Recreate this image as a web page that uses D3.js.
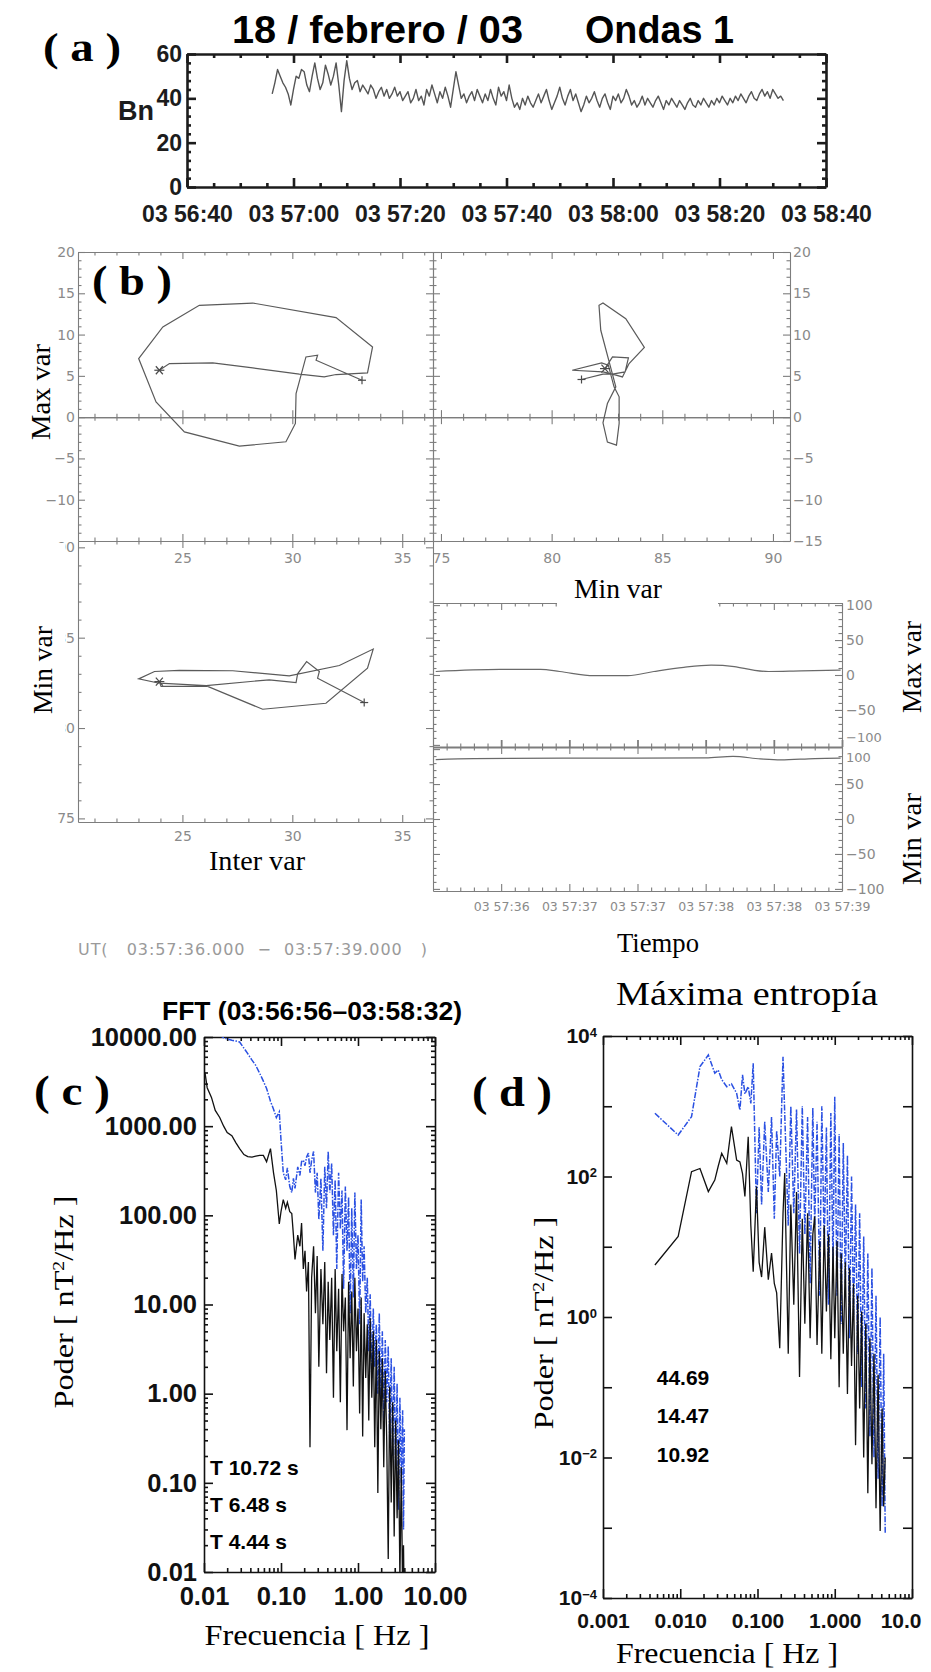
<!DOCTYPE html>
<html>
<head>
<meta charset="utf-8">
<script src="https://cdn.jsdelivr.net/npm/d3@7"></script>
<style>
  body { margin: 0; background: #fff; }
  svg { display: block; }
</style>
</head>
<body>
<svg id="fig" width="931" height="1672"></svg>
<script>
// ---------- data ----------

// (a) Bn every half second, starting 16 s after 03:56:40
const bnStart = 16, bnStep = 0.5;
const bnValues = [42, 47, 53, 50, 47, 45, 42, 37, 44, 50,
  49, 53, 52, 46, 43, 50, 56, 49, 44, 47,
  55, 51, 46, 50, 56, 46, 34, 48, 57, 49,
  44, 47, 48, 43, 46, 44, 42, 46, 44, 40,
  43, 45, 41, 44, 40, 42, 45, 41, 43, 39,
  41, 43, 38, 40, 44, 39, 41, 37, 44, 41,
  46, 42, 38, 43, 40, 45, 41, 36, 44, 52,
  46, 40, 42, 38, 41, 43, 39, 44, 41, 38,
  42, 39, 44, 40, 37, 45, 41, 43, 39, 46,
  40, 36, 38, 35, 40, 37, 41, 38, 36, 39,
  42, 38, 41, 44, 39, 35, 38, 41, 45, 40,
  37, 41, 44, 39, 42, 38, 34, 37, 41, 38,
  40, 43, 39, 36, 40, 42, 38, 35, 41, 39,
  42, 38, 40, 44, 41, 37, 39, 36, 38, 41,
  37, 40, 38, 36, 39, 41, 38, 35, 39, 37,
  40, 38, 36, 39, 37, 35, 38, 40, 37, 36,
  39, 37, 40, 38, 36, 39, 37, 40, 38, 41,
  39, 37, 40, 38, 41, 39, 42, 40, 38, 41,
  43, 40, 39, 42, 44, 41, 43, 40, 44, 42,
  40, 41, 39];
const aTicks = [0, 20, 40, 60, 80, 100, 120];
const aTickLabels = ["03 56:40", "03 57:00", "03 57:20", "03 57:40", "03 58:00", "03 58:20", "03 58:40"];
const aYTicks = [0, 20, 40, 60];

// (b) hodograms
const hodo1Inter = [23.95, 24.41, 26.38, 28.20, 30.32, 31.45, 31.99, 33.42, 33.65, 31.99, 28.20, 25.77,
  24.11, 23.01, 23.80, 25.09, 27.59, 29.71, 30.14, 30.17, 30.62, 31.15, 31.08, 33.17];
const hodo1Max = [5.68, 6.49, 6.57, 5.96, 5.20, 4.88, 5.16, 5.36, 8.50, 12.05, 13.82, 13.54,
  10.92, 7.10, 1.85, -1.78, -3.51, -2.98, -0.76, 2.86, 7.29, 7.50, 6.89, 4.47];

const hodo2Min = [82.41, 82.75, 83.47, 83.32, 82.75, 82.32, 80.93, 82.26, 82.56, 82.82, 83.05, 83.05, 82.93, 82.52,
  82.32, 82.52, 82.90, 82.22, 82.14, 82.32, 83.35, 84.19, 83.50, 83.20, 82.75, 82.32, 81.35];
const hodo2Max = [5.88, 7.30, 7.18, 5.48, 5.20, 5.48, 5.68, 6.57, 6.29, 3.67, 2.46, -0.77, -3.39, -3.02,
  -0.69, 1.65, 3.67, 10.52, 13.54, 13.82, 11.93, 8.43, 6.49, 4.87, 5.20, 5.20, 4.56];

const hodo3Inter = [23.95, 24.03, 26.15, 28.65, 31.53, 33.42, 33.68, 32.14, 29.86, 27.29, 24.86,
  23.73, 23.01, 23.95, 26.08, 28.95, 30.17, 30.24, 30.65, 31.23, 31.15, 33.27];
const hodo3Min = [82.57, 82.30, 82.30, 81.04, 81.37, 83.31, 84.37, 83.46, 82.89, 83.17, 83.19,
  83.13, 82.72, 82.48, 82.35, 82.67, 82.52, 83.00, 83.68, 83.13, 82.76, 81.41];

// (b) time series, seconds after 03:57:00
const tsMaxTime = [36.02, 36.49, 36.79, 36.93, 37.18, 37.43, 37.62, 37.84, 38.04, 38.21, 38.35, 38.46, 38.70, 38.99];
const tsMax = [5, 8, 8, 5, -1, -1, 5, 11, 14, 12, 7, 5, 6, 7];
const tsMinTime = [36.02, 36.3, 37.0, 37.5, 38.0, 38.2, 38.4, 38.55, 38.8, 38.99];
const tsMin = [85, 86.5, 87, 87, 87.5, 89.5, 86, 84.5, 86.5, 87];
const tsTicks = [36.5, 37, 37.5, 38, 38.5, 39];
const tsTickLabels = ["03 57:36", "03 57:37", "03 57:37", "03 57:38", "03 57:38", "03 57:39"];

// (c) FFT spectra
const cFreq = [0.0103, 0.0110, 0.0125, 0.0140, 0.0160, 0.0180, 0.0200, 0.0230, 0.0260, 0.0290,
  0.0330, 0.0370, 0.0420, 0.0470, 0.0530, 0.0590, 0.0650, 0.0730, 0.0800, 0.0870,
  0.0950, 0.1000, 0.1070, 0.1150, 0.1210, 0.1300, 0.1380, 0.1450, 0.1520, 0.1650,
  0.1760, 0.1850, 0.1950, 0.2050, 0.2150, 0.2270, 0.2380, 0.2500, 0.2650, 0.2800,
  0.2950, 0.3100, 0.3300, 0.3500, 0.3700, 0.3900, 0.4100, 0.4300, 0.4550, 0.4800,
  0.5050, 0.5300, 0.5600, 0.5900, 0.6200, 0.6500, 0.6850, 0.7200, 0.7550, 0.7900,
  0.830, 0.870, 0.910, 0.955, 1.000, 1.050, 1.100, 1.150, 1.200, 1.260,
  1.320, 1.380, 1.440, 1.510, 1.580, 1.650, 1.730, 1.810, 1.890, 1.980,
  2.070, 2.160, 2.260, 2.360, 2.470, 2.580, 2.700, 2.820, 2.950, 3.080,
  3.220, 3.360, 3.500, 3.650, 3.800, 3.900, 4.000];
const cBlack = [4000, 2700, 2100, 1500, 1250, 1000, 850, 780, 650, 560,
  480, 455, 450, 460, 470, 470, 400, 560, 300, 190,
  80, 110, 150, 120, 140, 110, 105, 60, 32, 60,
  45, 82, 25, 40, 14, 30, 0.25, 20, 45, 8,
  35, 2.0, 25, 6, 30, 1.7, 18, 4, 20, 0.9,
  25, 3, 15, 0.8, 22, 5, 12, 0.39, 18, 2.5,
  14, 1.2, 20, 3, 9, 0.6, 12, 0.33, 8, 1.5,
  6, 0.5, 7, 0.9, 5, 0.25, 4, 0.077, 3, 0.4,
  2.5, 0.15, 1.8, 0.3, 0.014, 1.2, 0.06, 0.8, 0.025, 0.5,
  0.04, 0.3, 0.008, 0.15, 0.005, 0.02, 0.003];
const cBlue = [16000, 15000, 13500, 12000, 10500, 9800, 9500, 9200, 9000, 8800,
  7500, 6500, 5500, 4800, 3900, 3200, 2650, 1900, 1550, 1250,
  1450, 700, 300, 250, 340, 210, 180, 260, 200, 350,
  280, 400, 415, 360, 450, 500, 300, 415, 520, 180,
  300, 90, 260, 40, 350, 120, 520, 180, 380, 60,
  250, 25, 300, 70, 190, 15, 210, 40, 160, 8,
  120, 12, 180, 25, 60, 6, 150, 18, 45, 8,
  20, 3, 13, 1.5, 9, 2, 6, 1.0, 8, 0.8,
  5, 0.5, 4, 0.8, 3.4, 0.3, 2.5, 0.2, 2, 0.15,
  1.3, 0.05, 0.9, 0.1, 0.65, 0.03, 0.4];
const cXTicks = [0.01, 0.1, 1, 10];
const cXTickLabels = ["0.01", "0.10", "1.00", "10.00"];
const cYTicks = [0.01, 0.1, 1, 10, 100, 1000, 10000];
const cYTickLabels = ["0.01", "0.10", "1.00", "10.00", "100.00", "1000.00", "10000.00"];
const cPeriods = ["T 10.72 s", "T 6.48 s", "T 4.44 s"];

// (d) maximum entropy spectra
const dFreq = [0.0047, 0.0094, 0.0140, 0.0180, 0.0231, 0.0280, 0.0310, 0.0344, 0.0400, 0.0460,
  0.0537, 0.0592, 0.0640, 0.0687, 0.0758, 0.0820, 0.0880, 0.0970, 0.1050, 0.1130,
  0.1240, 0.1380, 0.1520, 0.1650, 0.1770, 0.1940, 0.2140, 0.2250, 0.2500, 0.2700,
  0.2950, 0.3200, 0.3500, 0.3800, 0.4100, 0.4450, 0.4800, 0.5200, 0.5500, 0.5900,
  0.640, 0.680, 0.730, 0.780, 0.830, 0.890, 0.950, 1.000, 1.070, 1.140,
  1.210, 1.290, 1.370, 1.460, 1.550, 1.650, 1.750, 1.860, 1.980, 2.100,
  2.230, 2.370, 2.520, 2.680, 2.850, 3.030, 3.220, 3.420, 3.640, 3.870,
  4.100, 4.300, 4.500];
const dBlack = [5.5, 14, 117, 130, 61, 89, 140, 214, 154, 512,
  171, 161, 110, 52, 369, 20, 4.4, 72, 6, 3.7,
  19, 3.4, 8.1, 3, 2.2, 0.36, 30, 112, 0.3, 40,
  1.5, 60, 0.14, 25, 0.8, 30, 0.5, 15, 27, 0.4,
  12, 0.3, 20, 1.2, 15, 0.25, 10, 0.5, 12, 0.1,
  8, 0.3, 6, 0.08, 5, 0.2, 3, 0.015, 2, 0.05,
  1.2, 0.01, 0.8, 0.0031, 0.5, 0.008, 0.3, 0.0019, 0.15, 0.0009,
  0.05, 0.002, 0.01];
const dBlue = [794, 389, 711, 3660, 5370, 2950, 3280, 2400, 1900, 2080,
  1530, 880, 2800, 1500, 1900, 1100, 4080, 30, 500, 40,
  600, 60, 700, 25, 450, 100, 5080, 800, 20, 1000,
  30, 900, 8, 1000, 15, 700, 3, 950, 20, 600,
  2, 1000, 10, 500, 1.5, 800, 5, 1370, 2, 400,
  0.8, 300, 3, 200, 0.5, 100, 1, 40, 0.3, 30,
  0.1, 14, 0.05, 8, 0.02, 5, 0.01, 2, 0.005, 1,
  0.002, 0.3, 0.00085];
const dXTicks = [0.001, 0.01, 0.1, 1, 10];
const dXTickLabels = ["0.001", "0.010", "0.100", "1.000", "10.0"];
const dYExp = [-4, -2, 0, 2, 4];
const dPeriods = ["44.69", "14.47", "10.92"];

// ---------- drawing ----------
const svg = d3.select("#fig");
const SERIF = "'Liberation Serif', 'DejaVu Serif', serif";
const SANS = "'Liberation Sans', Arial, sans-serif";
const IDL = "'DejaVu Sans', sans-serif";
const GREY = "#7d7d7d";
const BLUE = "#2a50e2";

function label(x, y, s, o) {
  o = o || {};
  const t = svg.append("text")
    .attr("x", x).attr("y", y)
    .attr("font-family", o.family || SANS)
    .attr("font-size", o.size || 16)
    .attr("font-weight", o.weight || "normal")
    .attr("fill", o.fill || "#000")
    .attr("text-anchor", o.anchor || "middle")
    .style("white-space", "pre")
    .text(s);
  if (o.len) t.attr("textLength", o.len).attr("lengthAdjust", o.adjust || "spacingAndGlyphs");
  if (o.rotate) t.attr("transform", "rotate(" + o.rotate + "," + x + "," + y + ")");
  return t;
}

// inward ticks; labels optional
function axis(kind, scale, o) {
  const make = {bottom: d3.axisBottom, top: d3.axisTop, left: d3.axisLeft, right: d3.axisRight}[kind];
  const gen = make(scale)
    .tickValues(o.values)
    .tickSizeInner(-o.size)
    .tickSizeOuter(0)
    .tickPadding(o.pad || 4)
    .tickFormat(o.labels ? (d, i) => o.labels[i] : "");
  const g = svg.append("g")
    .attr("transform", "translate(" + (o.x || 0) + "," + (o.y || 0) + ")")
    .call(gen);
  if (o.noDomain) g.select(".domain").remove();
  else g.select(".domain").attr("stroke", o.color).attr("stroke-width", o.width);
  g.selectAll(".tick line").attr("stroke", o.color).attr("stroke-width", o.width);
  if (!o.labels) {
    g.selectAll(".tick text").remove();
  } else {
    g.selectAll(".tick text")
      .attr("fill", o.textColor || o.color)
      .attr("font-family", o.family || SANS)
      .attr("font-size", o.fontSize || 12)
      .attr("font-weight", o.weight || "normal");
  }
  return g;
}

function logMinor(lo, hi) {
  const out = [];
  for (let e = Math.floor(Math.log10(lo)); e < Math.ceil(Math.log10(hi)); e++) {
    for (let m = 2; m <= 9; m++) out.push(m * Math.pow(10, e));
  }
  return out.filter(v => v > lo && v < hi);
}

// ===== panel (a) =====
label(232, 43, "18 / febrero / 03", {size: 38, weight: "bold", anchor: "start", len: 291});
label(585, 43, "Ondas 1", {size: 38, weight: "bold", anchor: "start", len: 149});
label(82, 61, "( a )", {family: SERIF, size: 40, weight: "bold", len: 78});

const xA = d3.scaleLinear([0, 120], [187, 826]);
const yA = d3.scaleLinear([0, 60], [187, 54]);
const aStyle = {color: "#1c1c1c", width: 2.6, fontSize: 23, weight: "bold", textColor: "#1c1c1c"};
axis("bottom", xA, Object.assign({values: aTicks, labels: aTickLabels, size: 9, y: 187, pad: 19}, aStyle));
axis("top", xA, Object.assign({values: aTicks, size: 9, y: 54}, aStyle));
axis("left", yA, Object.assign({values: aYTicks, labels: aYTicks.map(String), size: 9, x: 187, pad: 5}, aStyle));
axis("right", yA, Object.assign({values: aYTicks, size: 9, x: 826}, aStyle));
const aMinX = d3.range(0, 121, 5).filter(v => v % 20);
const aMinY = d3.range(0, 61, 4).filter(v => v % 20);
axis("bottom", xA, Object.assign({values: aMinX, size: 4, y: 187, noDomain: true}, aStyle));
axis("top", xA, Object.assign({values: aMinX, size: 4, y: 54, noDomain: true}, aStyle));
axis("left", yA, Object.assign({values: aMinY, size: 4, x: 187, noDomain: true}, aStyle));
axis("right", yA, Object.assign({values: aMinY, size: 4, x: 826, noDomain: true}, aStyle));
label(136, 120, "Bn", {size: 27, weight: "bold", fill: "#1c1c1c"});

svg.append("path")
  .datum(bnValues)
  .attr("fill", "none")
  .attr("stroke", "#555")
  .attr("stroke-width", 1.4)
  .attr("stroke-linejoin", "round")
  .attr("d", d3.line().x((d, i) => xA(bnStart + i * bnStep)).y(d => yA(d)));

// ===== panel (b) =====
const xInter = d3.scaleLinear([20.25, 36.4], [78, 433]);
const yMaxS = d3.scaleLinear([-15, 20], [541, 252]);
const xMinS = d3.scaleLinear([74.64, 90.77], [433, 790]);
const yMinS = d3.scaleLinear([74.8, 90.35], [822, 541]);
const xT = d3.scaleLinear([36, 39], [433, 842]);
const yTop = d3.scaleLinear([-103, 103], [747, 603]);
const yBot = d3.scaleLinear([-103, 103], [891, 747]);

const bStyle = {color: GREY, width: 1.1, family: IDL, fontSize: 14, textColor: "#8a8a8a"};
const interMaj = [25, 30, 35], interMin = d3.range(21, 37).filter(v => v % 5);
const maxMaj = [-15, -10, -5, 0, 5, 10, 15, 20], maxMin = d3.range(-14, 20).filter(v => v % 5);
const maxLab = maxMaj.map(v => v < 0 ? "\u2212" + (-v) : String(v));
const minMaj = [75, 80, 85, 90], minMin = d3.range(75, 91).filter(v => v % 5);
const tsMaj = [-100, -50, 0, 50, 100], tsMinor = d3.range(-100, 101, 10).filter(v => v % 50);
const tsLab = tsMaj.map(v => v < 0 ? "\u2212" + (-v) : String(v));
const tMinor = d3.range(36.1, 39, 0.1).filter(v => Math.abs(v * 2 - Math.round(v * 2)) > 0.05);

function ticksPair(kind, scale, maj, min, pos, extra) {
  const p = (kind === "bottom" || kind === "top") ? {y: pos} : {x: pos};
  axis(kind, scale, Object.assign({values: maj, size: 7}, p, bStyle, extra || {}));
  axis(kind, scale, Object.assign({values: min, size: 3.5, noDomain: true}, p, bStyle));
}

// top-left: Inter var vs Max var
ticksPair("left", yMaxS, maxMaj.slice(1), maxMin, 78, {labels: maxLab.slice(1), pad: 3});
ticksPair("top", xInter, interMaj, interMin, 252);
ticksPair("bottom", xInter, interMaj, interMin, 541, {labels: interMaj.map(String), pad: 12});
// top-right: Min var vs Max var
ticksPair("top", xMinS, minMaj, minMin, 252);
ticksPair("bottom", xMinS, minMaj, minMin, 541, {labels: minMaj.map(String), pad: 12});
ticksPair("right", yMaxS, maxMaj, maxMin, 790, {labels: maxLab, pad: 3});
// shared centre line and zero line, ticks on both sides
ticksPair("left", yMaxS, maxMaj, maxMin, 433);
ticksPair("right", yMaxS, maxMaj, maxMin, 433);
ticksPair("bottom", xInter, interMaj, interMin, yMaxS(0));
ticksPair("top", xInter, interMaj, interMin, yMaxS(0));
ticksPair("bottom", xMinS, minMaj, minMin, yMaxS(0));
ticksPair("top", xMinS, minMaj, minMin, yMaxS(0));
// bottom-left: Inter var vs Min var
ticksPair("left", yMinS, minMaj, minMin, 78, {labels: minMaj.map(String), pad: 3});
ticksPair("right", yMinS, minMaj, minMin, 433);
ticksPair("top", xInter, interMaj, interMin, 541);
ticksPair("bottom", xInter, interMaj, interMin, 822, {labels: interMaj.map(String), pad: 9});
// bottom-right: time series
ticksPair("left", yTop, tsMaj, tsMinor, 433);
ticksPair("left", yBot, tsMaj, tsMinor, 433);
ticksPair("right", yTop, tsMaj.slice(1), tsMinor, 842, {labels: tsLab.slice(1), pad: 4});
ticksPair("right", yBot, tsMaj.slice(0, 4), tsMinor, 842, {labels: tsLab.slice(0, 4), pad: 4});
ticksPair("top", xT, tsTicks, tMinor, 603);
ticksPair("bottom", xT, tsTicks, tMinor, 747, {width: 1.8});
ticksPair("top", xT, tsTicks, tMinor, 747);
ticksPair("bottom", xT, tsTicks, tMinor, 891, {labels: tsTickLabels, pad: 11, fontSize: 12.5});
// the -100 of the upper strip and the 100 of the lower one crowd together at the seam
label(846, yTop(-100) - 3, "\u2212100", {family: IDL, size: 13, fill: "#8a8a8a", anchor: "start"});
label(846, yBot(100) + 13, "100", {family: IDL, size: 13, fill: "#8a8a8a", anchor: "start"});

const hodoLine = (xs, ys, sx, sy) => {
  svg.append("path")
    .datum(d3.range(xs.length))
    .attr("fill", "none").attr("stroke", "#5a5a5a").attr("stroke-width", 1.2)
    .attr("d", d3.line().x(i => sx(xs[i])).y(i => sy(ys[i])));
  const x0 = sx(xs[0]), y0 = sy(ys[0]);
  const xe = sx(xs[xs.length - 1]), ye = sy(ys[ys.length - 1]);
  const m = svg.append("g").attr("stroke", "#4a4a4a").attr("stroke-width", 1.2);
  [[-5, 0, 5, 0], [-3.5, -4, 3.5, 4], [-3.5, 4, 3.5, -4]].forEach(s =>
    m.append("line").attr("x1", x0 + s[0]).attr("y1", y0 + s[1]).attr("x2", x0 + s[2]).attr("y2", y0 + s[3]));
  [[-4, 0, 4, 0], [0, -4, 0, 4]].forEach(s =>
    m.append("line").attr("x1", xe + s[0]).attr("y1", ye + s[1]).attr("x2", xe + s[2]).attr("y2", ye + s[3]));
};
hodoLine(hodo1Inter, hodo1Max, xInter, yMaxS);
hodoLine(hodo2Min, hodo2Max, xMinS, yMaxS);
hodoLine(hodo3Inter, hodo3Min, xInter, yMinS);

svg.append("path").datum(d3.range(tsMax.length))
  .attr("fill", "none").attr("stroke", "#6a6a6a").attr("stroke-width", 1.2)
  .attr("d", d3.line().curve(d3.curveMonotoneX).x(i => xT(tsMaxTime[i])).y(i => yTop(tsMax[i])));
svg.append("path").datum(d3.range(tsMin.length))
  .attr("fill", "none").attr("stroke", "#6a6a6a").attr("stroke-width", 1.2)
  .attr("d", d3.line().curve(d3.curveMonotoneX).x(i => xT(tsMinTime[i])).y(i => yBot(tsMin[i])));

// pasted label boxes
svg.append("rect").attr("x", 18).attr("y", 543).attr("width", 47).attr("height", 258).attr("fill", "#fff");
svg.append("rect").attr("x", 557).attr("y", 572).attr("width", 161).attr("height", 40).attr("fill", "#fff");

label(132, 295, "( b )", {family: SERIF, size: 42, weight: "bold", len: 80});
label(50, 392, "Max var", {family: SERIF, size: 28, rotate: -90, len: 96});
label(52, 670, "Min var", {family: SERIF, size: 28, rotate: -90, len: 88});
label(257, 870, "Inter var", {family: SERIF, size: 28, len: 96});
label(618, 598, "Min var", {family: SERIF, size: 28, len: 88});
label(658, 952, "Tiempo", {family: SERIF, size: 27, len: 82});
label(921, 667, "Max var", {family: SERIF, size: 28, rotate: -90, len: 92});
label(921, 839, "Min var", {family: SERIF, size: 28, rotate: -90, len: 92});
label(78, 955, "UT(   03:57:36.000  \u2212  03:57:39.000   )",
  {family: IDL, size: 16, fill: "#9a9a9a", anchor: "start", len: 349, adjust: "spacing"});

// ===== panel (c) =====
const xC = d3.scaleLog([0.01, 10], [204, 435]);
const yC = d3.scaleLog([0.01, 10000], [1572, 1037]);
const cStyle = {color: "#111", width: 1.6, fontSize: 25.5, weight: "bold", textColor: "#111"};
axis("bottom", xC, Object.assign({values: cXTicks, labels: cXTickLabels, size: 9, y: 1572, pad: 15}, cStyle));
axis("top", xC, Object.assign({values: cXTicks, size: 9, y: 1037}, cStyle));
axis("left", yC, Object.assign({values: cYTicks, labels: cYTickLabels, size: 9, x: 204, pad: 7}, cStyle));
axis("right", yC, Object.assign({values: cYTicks, size: 9, x: 435}, cStyle));
const cMinX = logMinor(0.01, 10), cMinY = logMinor(0.01, 10000);
axis("bottom", xC, Object.assign({values: cMinX, size: 4, y: 1572, noDomain: true}, cStyle));
axis("top", xC, Object.assign({values: cMinX, size: 4, y: 1037, noDomain: true}, cStyle));
axis("left", yC, Object.assign({values: cMinY, size: 4, x: 204, noDomain: true}, cStyle));
axis("right", yC, Object.assign({values: cMinY, size: 4, x: 435, noDomain: true}, cStyle));

svg.append("clipPath").attr("id", "clipC").append("rect")
  .attr("x", 204).attr("y", 1037).attr("width", 231).attr("height", 535);
svg.append("clipPath").attr("id", "clipD").append("rect")
  .attr("x", 603).attr("y", 1036).attr("width", 309).attr("height", 562);

function spectrum(freq, pow, sx, sy, clip, color, dash) {
  const n = Math.min(freq.length, pow.length);
  svg.append("path").datum(d3.range(n))
    .attr("clip-path", "url(#" + clip + ")")
    .attr("fill", "none").attr("stroke", color).attr("stroke-width", dash ? 1.5 : 1.3)
    .attr("stroke-dasharray", dash || null)
    .attr("d", d3.line().x(i => sx(freq[i])).y(i => sy(pow[i])));
}
spectrum(cFreq, cBlue, xC, yC, "clipC", BLUE, "6,1.5,1.5,1.5");
spectrum(cFreq, cBlack, xC, yC, "clipC", "#111");

label(312, 1020, "FFT (03:56:56\u201303:58:32)", {size: 25, weight: "bold", len: 300});
label(72, 1105, "( c )", {family: SERIF, size: 42, weight: "bold", len: 76});
const yl = label(73, 1302, "", {family: SERIF, size: 28, rotate: -90, len: 213});
yl.append("tspan").text("Poder [ nT");
yl.append("tspan").attr("dy", -9).attr("font-size", 17).text("2");
yl.append("tspan").attr("dy", 9).text("/Hz ]");
label(317, 1645, "Frecuencia [ Hz ]", {family: SERIF, size: 30, len: 225});
[1475, 1512, 1549].forEach((y, i) =>
  label(210, y, cPeriods[i], {size: 21, weight: "bold", anchor: "start"}));

// ===== panel (d) =====
const xD = d3.scaleLog([0.001, 10], [603, 912]);
const yD = d3.scaleLog([1e-4, 1e4], [1598, 1036]);
const dStyle = {color: "#111", width: 1.6, fontSize: 21, weight: "bold", textColor: "#111"};
const dDecades = d3.range(-4, 5).map(e => Math.pow(10, e));
const dXAxis = axis("bottom", xD, Object.assign({values: dXTicks, labels: dXTickLabels, size: 9, y: 1598, pad: 15}, dStyle));
// the last label is pulled inside the frame, as in the original
dXAxis.selectAll(".tick text").filter((d, i) => i === dXTicks.length - 1)
  .attr("text-anchor", "end").attr("x", 9);
axis("top", xD, Object.assign({values: dXTicks, size: 9, y: 1036}, dStyle));
axis("right", yD, Object.assign({values: dDecades, size: 9, x: 912}, dStyle));
const dYAxis = axis("left", yD, Object.assign({
  values: dYExp.map(e => Math.pow(10, e)), labels: dYExp.map(String), size: 9, x: 603, pad: 6}, dStyle));
dYAxis.selectAll(".tick text").each(function (d, i) {
  const t = d3.select(this);
  const e = dYExp[i];
  t.text(null);
  t.append("tspan").text("10");
  t.append("tspan").attr("dy", "-0.5em").attr("font-size", 13).text(e < 0 ? "\u2212" + (-e) : String(e));
});
axis("left", yD, Object.assign({values: dDecades.filter((v, i) => i % 2), size: 9, x: 603, noDomain: true}, dStyle));
const dMinX = logMinor(0.001, 10);
axis("bottom", xD, Object.assign({values: dMinX, size: 4, y: 1598, noDomain: true}, dStyle));
axis("top", xD, Object.assign({values: dMinX, size: 4, y: 1036, noDomain: true}, dStyle));

spectrum(dFreq, dBlue, xD, yD, "clipD", BLUE, "6,1.5,1.5,1.5");
spectrum(dFreq, dBlack, xD, yD, "clipD", "#111");

label(747, 1005, "M\u00e1xima entrop\u00eda", {family: SERIF, size: 34, len: 262});
label(512, 1106, "( d )", {family: SERIF, size: 42, weight: "bold", len: 80});
const yl2 = label(553, 1323, "", {family: SERIF, size: 28, rotate: -90, len: 213});
yl2.append("tspan").text("Poder [ nT");
yl2.append("tspan").attr("dy", -9).attr("font-size", 17).text("2");
yl2.append("tspan").attr("dy", 9).text("/Hz ]");
label(727, 1663, "Frecuencia [ Hz ]", {family: SERIF, size: 30, len: 222});
[1385, 1423, 1462].forEach((y, i) =>
  label(683, y, dPeriods[i], {size: 21, weight: "bold"}));
</script>
</body>
</html>
